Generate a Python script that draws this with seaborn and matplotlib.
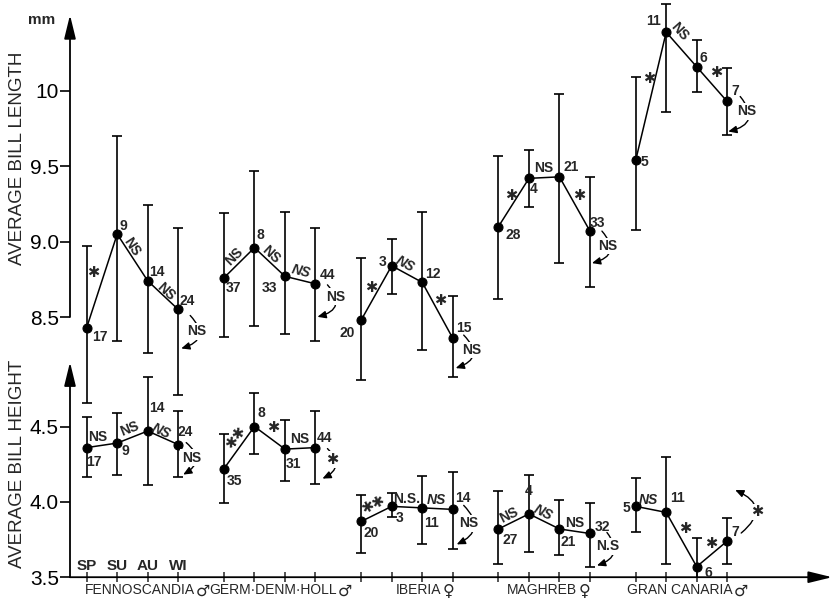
import numpy as np
import pandas as pd
import matplotlib
matplotlib.use("Agg")
import matplotlib.pyplot as plt
from matplotlib.patches import FancyArrowPatch
from matplotlib.transforms import IdentityTransform
import seaborn as sns

# ---------------------------------------------------------------- data
regions = ["FENNOSCANDIA", "GERM·DENM·HOLL", "IBERIA", "MAGHREB", "GRAN CANARIA"]
sex_symbols = ["♂", "♂", "♀", "♀", "♂"]
seasons = ["SP", "SU", "AU", "WI"]

length_mean = [8.43, 9.05, 8.74, 8.55, 8.76, 8.96, 8.77, 8.72, 8.48, 8.84,
               8.73, 8.36, 9.10, 9.42, 9.43, 9.07, 9.54, 10.39, 10.16, 9.93]
length_hi = [8.97, 9.70, 9.24, 9.09, 9.19, 9.47, 9.20, 9.09, 8.89, 9.02,
             9.20, 8.64, 9.57, 9.61, 9.98, 9.43, 10.09, 10.58, 10.34, 10.15]
length_lo = [7.93, 8.34, 8.26, 7.98, 8.37, 8.44, 8.39, 8.34, 8.08, 8.65,
             8.28, 8.10, 8.62, 9.23, 8.86, 8.70, 9.08, 9.86, 9.99, 9.71]
length_n = [17, 9, 14, 24, 37, 8, 33, 44, 20, 3, 12, 15, 28, 4, 21, 33, 5, 11, 6, 7]

height_mean = [4.36, 4.39, 4.47, 4.38, 4.22, 4.50, 4.35, 4.36, 3.87, 3.97,
               3.96, 3.95, 3.82, 3.92, 3.82, 3.79, 3.97, 3.93, 3.57, 3.74]
height_hi = [4.565, 4.59, 4.83, 4.605, 4.45, 4.72, 4.54, 4.60, 4.045, 4.06,
             4.17, 4.20, 4.07, 4.18, 4.01, 3.99, 4.16, 4.30, 3.76, 3.89]
height_lo = [4.167, 4.18, 4.11, 4.167, 3.99, 4.32, 4.14, 4.12, 3.66, 3.90,
             3.72, 3.69, 3.59, 3.67, 3.65, 3.57, 3.80, 3.59, 3.38, 3.59]
height_n = [17, 9, 14, 24, 35, 8, 31, 44, 20, 3, 11, 14, 27, 4, 21, 32, 5, 11, 6, 7]

# tests SP-SU, SU-AU, AU-WI, then WI vs SP
length_sig = [["*", "NS", "NS", "NS"], ["NS", "NS", "NS", "NS"], ["*", "NS", "*", "NS"],
              ["*", "NS", "*", "NS"], ["*", "NS", "*", "NS"]]
height_sig = [["NS", "NS", "NS", "NS"], ["**", "*", "NS", "*"], ["**", "N.S.", "NS", "NS"],
              ["NS", "NS", "NS", "N.S"], ["NS", "*", "*", "*"]]

# ---------------------------------------------------------------- label placement (pixels, y up)
# consecutive-season test labels: (dx, dy, follow line slope, italic)
length_sig_pos = [[(-9, 8, 0, 0), (-1, 11, 1, 0), (3, 4, 1, 0)],
                  [(-5, 6, 1, 0), (1, 7, 1, 0), (1, 9, 1, 1)],
                  [(-5, 5, 0, 0), (-2, 10, 1, 1), (3, 9, 0, 0)],
                  [(-3, 6, 0, 0), (-1, 10, 0, 0), (4, 8, 0, 0)],
                  [(-2, 17, 0, 0), (-2, 18, 1, 0), (4, 11, 0, 0)]]
height_sig_pos = [[(-4, 8, 0, 0), (-3, 8, 1, 0), (-2, 7, 1, 1)],
                  [(-3, 10, 1, 0), (3, 10, 0, 0), (-1, 9, 0, 0)],
                  [(-3, 9, 1, 0), (0, 8, 0, 0), (-1, 8.5, 0, 1)],
                  [(-5, 6, 1, 0), (-1, 9, 1, 1), (0, 8, 0, 0)],
                  [(-3, 9, 0, 1), (4, 11, 0, 0), (-1, 10, 0, 0)]]
# WI-vs-SP arc: start, end, text offsets from the WI point, arc curvature
length_arc_pos = [((12, -6), (3, -39), (18, -22), -0.8),
                  ((12, -1), (2, -33), (20, -13), -0.8),
                  ((11, 3), (3, -30), (19, -12), -0.8),
                  ((12, 0), (2, -32), (18, -15), -0.8),
                  ((13, 5), (1, -30), (19, -10), -0.8)]
height_arc_pos = [((8, 2), (5, -30), (13, -13), -0.7),
                  ((12, -1), (7, -31), (17, -12), -0.7),
                  ((11, 4), (4, -35), (16, -14), -0.7),
                  ((17, 1), (7, -32), (18, -13), -0.7),
                  ((14, 8), (8, 51), (30, 29), 0.8)]
# sample-size labels
length_n_pos = [(13, -9), (6, 8), (9, 9), (9, 8),
                (10, -10), (6, 13), (-15, -12), (12, 9),
                (-14, -13), (-9, 4), (11, 8), (11, 10),
                (15, -8), (5, -11), (12, 10), (8, 8),
                (9, -2), (-13, 11), (7, 9), (8, 10)]
height_n_pos = [(7, -14), (8, -8), (9, 23), (7, 13),
                (11, -12), (7, 14), (9, -15), (9, 10),
                (10, -12), (8, -12), (9, -15), (10, 11),
                (12, -11), (0, 23), (9, -13), (12, 6),
                (-9, -2), (11, 14), (12, -6), (8, 9)]
# right end of each region name, pixels from the group's first season
group_label_end = [108, 113, 80, 79, 97]

# ---------------------------------------------------------------- frame
sns.set_style("white")
plt.rcParams["font.family"] = ["Liberation Sans", "DejaVu Sans"]

GROUP_STEP = 4.5
rows = []
for g, reg in enumerate(regions):
    for s, sea in enumerate(seasons):
        i = g * 4 + s
        rows.append(dict(region=reg, season=sea, x=g * GROUP_STEP + s,
                         length=length_mean[i], length_hi=length_hi[i], length_lo=length_lo[i],
                         length_n=length_n[i], height=height_mean[i], height_hi=height_hi[i],
                         height_lo=height_lo[i], height_n=height_n[i]))
df = pd.DataFrame(rows)

W, H = 833, 602
fig = plt.figure(figsize=(W / 100, H / 100), dpi=100)
fig.patch.set_facecolor("white")
rect = [70 / W, 24.8 / H, (W - 70) / W, 577.2 / H]
ax_h = fig.add_axes(rect)
ax_l = fig.add_axes(rect, sharex=ax_h)
ax_l.patch.set_alpha(0)

PX_PER_MM = 150.7
xlim = (-16.7 / 30.5, (W - 86.7) / 30.5)
ax_h.set_xlim(*xlim)
ax_h.set_ylim(3.5, 3.5 + 577.2 / PX_PER_MM)
ax_l.set_ylim(8.5 - 260.2 / PX_PER_MM, 8.5 + 317 / PX_PER_MM)

for ax in (ax_h, ax_l):
    for sp in ax.spines.values():
        sp.set_visible(False)

LW = 1.1
for ax, col in ((ax_l, "length"), (ax_h, "height")):
    sns.lineplot(data=df, x="x", y=col, units="region", estimator=None, sort=False,
                 color="black", linewidth=LW, marker="o", markersize=6.5,
                 markeredgecolor="black", legend=False, ax=ax)
    ax.errorbar(df["x"], df[col], yerr=[df[col] - df[col + "_lo"], df[col + "_hi"] - df[col]],
                fmt="none", ecolor="black", elinewidth=1.2, capsize=3.3, capthick=1.2)
    ax.set_xlabel("")
    ax.set_ylabel("")

# axes with arrowheads
axis_arrow = dict(arrowstyle="-|>,head_length=0.9,head_width=0.22", lw=1.3, color="black",
                  shrinkA=0, shrinkB=0, mutation_scale=16)
ax_l.annotate("", xy=(xlim[0], 8.5 + 302 / PX_PER_MM), xytext=(xlim[0], 8.5),
              arrowprops=axis_arrow, annotation_clip=False)
ax_h.annotate("", xy=(xlim[0], 3.5 + 215 / PX_PER_MM), xytext=(xlim[0], 3.5),
              arrowprops=axis_arrow, annotation_clip=False)
ax_h.annotate("", xy=(xlim[1] - 0.03, 3.5), xytext=(xlim[0], 3.5),
              arrowprops=axis_arrow, annotation_clip=False)

ax_l.set_yticks([8.5, 9.0, 9.5, 10.0], ["8.5", "9.0", "9.5", "10"])
ax_h.set_yticks([3.5, 4.0, 4.5], ["3.5", "4.0", "4.5"])
for ax in (ax_l, ax_h):
    ax.tick_params(axis="y", left=True, direction="out", length=7, width=1.2,
                   labelsize=15, pad=1, colors="black")
ax_l.tick_params(axis="x", bottom=False, labelbottom=False)
ax_h.set_xticks(df["x"])
ax_h.tick_params(axis="x", bottom=True, direction="inout", length=7, width=1.1,
                 labelbottom=False)

fig.text(18 / W, 1 - 158 / H, "AVERAGE BILL LENGTH", rotation=90, ha="center",
         va="center", fontsize=13.5)
fig.text(18 / W, 1 - 464 / H, "AVERAGE BILL HEIGHT", rotation=90, ha="center",
         va="center", fontsize=13.5)
fig.text(42 / W, 1 - 20 / H, "mm", ha="center", va="center", fontsize=11, fontweight="bold")

for s, sea in enumerate(seasons):
    ax_h.annotate(sea, xy=(s, 3.5), xytext=(0, 11), textcoords="offset pixels",
                  ha="center", va="center", fontsize=11, fontweight="bold")
for g, reg in enumerate(regions):
    anchor = (g * GROUP_STEP, 3.5)
    ax_h.annotate(reg, xy=anchor, xytext=(group_label_end[g], -13), textcoords="offset pixels",
                  ha="right", va="center", fontsize=10, annotation_clip=False)
    ax_h.annotate(sex_symbols[g], xy=anchor, xytext=(group_label_end[g] + 1, -14),
                  textcoords="offset pixels", ha="left", va="center", fontsize=11.5,
                  family="DejaVu Sans", annotation_clip=False)


def sig_text(txt):
    return txt.replace("*", "✱")


def sig_size(txt):
    return 10.5 if "*" in txt else 10


def annotate_panel(ax, col, sigs, sig_pos, arc_pos, n_pos, n_vals):
    xs = df["x"].to_numpy()
    ys = df[col].to_numpy()
    for i in range(len(xs)):
        dx, dy = n_pos[i]
        ax.annotate(str(n_vals[i]), xy=(xs[i], ys[i]), xytext=(dx, dy),
                    textcoords="offset pixels", ha="center", va="center",
                    fontsize=10, fontweight="bold", annotation_clip=False)
    for g in range(len(regions)):
        for k in range(3):
            i = g * 4 + k
            p1 = ax.transData.transform((xs[i], ys[i]))
            p2 = ax.transData.transform((xs[i + 1], ys[i + 1]))
            dx, dy, follow, italic = sig_pos[g][k]
            ang = np.degrees(np.arctan2(p2[1] - p1[1], p2[0] - p1[0])) if follow else 0
            txt = sigs[g][k]
            ax.annotate(sig_text(txt), xy=((xs[i] + xs[i + 1]) / 2, (ys[i] + ys[i + 1]) / 2),
                        xytext=(dx, dy), textcoords="offset pixels", ha="center",
                        va="center", rotation=ang, rotation_mode="anchor",
                        fontsize=sig_size(txt), fontweight="bold",
                        fontstyle="italic" if italic else "normal", annotation_clip=False)
        # winter vs spring comparison
        iw = g * 4 + 3
        p = ax.transData.transform((xs[iw], ys[iw]))
        (sx, sy), (ex, ey), (tx, ty), rad = arc_pos[g]
        arc = FancyArrowPatch((p[0] + sx, p[1] + sy), (p[0] + ex, p[1] + ey),
                              transform=IdentityTransform(),
                              arrowstyle="-|>,head_length=0.5,head_width=0.22",
                              mutation_scale=10, connectionstyle=f"arc3,rad={rad}",
                              lw=1.0, color="black", shrinkA=0, shrinkB=0, clip_on=False)
        ax.add_patch(arc)
        txt = sigs[g][3]
        ax.annotate(sig_text(txt), xy=(p[0] + tx, p[1] + ty), xycoords="figure pixels",
                    ha="center", va="center", fontsize=sig_size(txt), fontweight="bold",
                    bbox=dict(boxstyle="square,pad=0.1", fc="white", ec="none"),
                    annotation_clip=False)


annotate_panel(ax_l, "length", length_sig, length_sig_pos, length_arc_pos, length_n_pos, length_n)
annotate_panel(ax_h, "height", height_sig, height_sig_pos, height_arc_pos, height_n_pos, height_n)

fig.savefig("out.png", dpi=100, facecolor="white")
